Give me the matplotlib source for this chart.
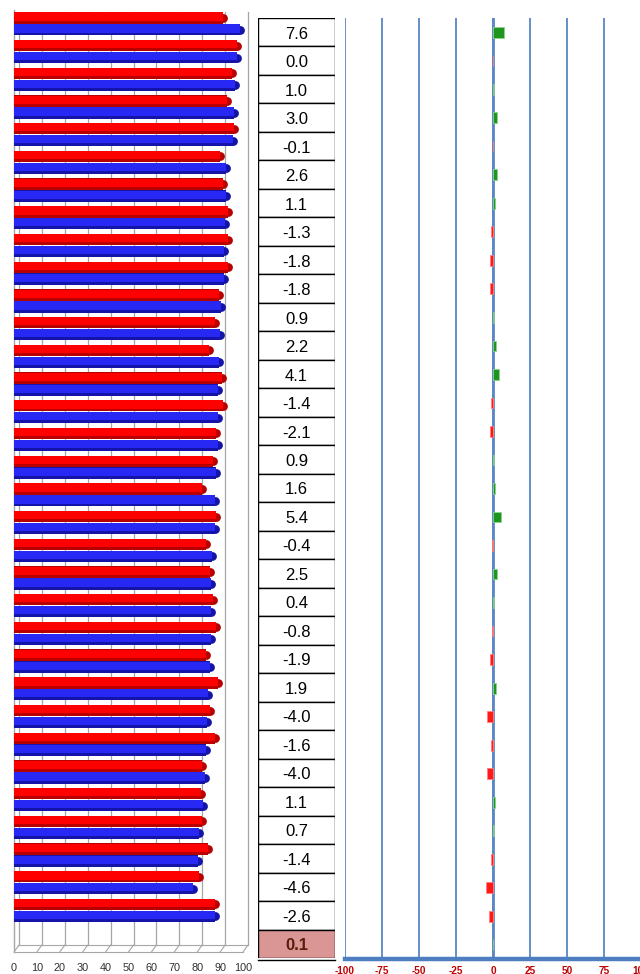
import numpy as np
import matplotlib
matplotlib.use("Agg")
import matplotlib.pyplot as plt
import matplotlib.patches as mpatches
import matplotlib.transforms as mtransforms

plt.rcParams.update({"font.family": ["Liberation Sans", "DejaVu Sans"],
                     "axes.unicode_minus": False})

W, H = 640, 974

# values, top row first
red_vals = [91.1, 97.5, 95.3, 93.1, 95.9, 90.1, 91.4, 93.3, 93.6, 93.3, 89.5,
            87.8, 85.3, 90.7, 91.1, 88.2, 86.8, 82.2, 88.1, 83.8, 85.7, 87.0,
            88.1, 83.8, 88.9, 85.7, 87.9, 82.1, 81.8, 82.2, 84.9, 80.8, 87.8]
blue_vals = [98.7, 97.5, 96.3, 96.1, 95.8, 92.7, 92.5, 92.0, 91.8, 91.5, 90.4,
             90.0, 89.4, 89.3, 89.0, 89.1, 88.4, 87.6, 87.7, 86.3, 86.1, 86.2,
             86.2, 85.7, 84.9, 84.1, 83.9, 83.2, 82.5, 80.8, 80.3, 78.2, 87.9]
diffs = [7.6, 0.0, 1.0, 3.0, -0.1, 2.6, 1.1, -1.3, -1.8, -1.8, 0.9, 2.2, 4.1,
         -1.4, -2.1, 0.9, 1.6, 5.4, -0.4, 2.5, 0.4, -0.8, -1.9, 1.9, -4.0,
         -1.6, -4.0, 1.1, 0.7, -1.4, -4.6, -2.6, 0.1]
left_ticks = [0, 10, 20, 30, 40, 50, 60, 70, 80, 90, 100]
right_ticks = [-100, -75, -50, -25, 0, 25, 50, 75, 100]

RED = "#FF0000"; RED_DK = "#B80000"
BLUE = "#2828F5"; BLUE_DK = "#1414A8"
WALL = "#A6A6A6"; GRID_BLUE = "#5B87C5"
GREEN = "#1E961E"; NEG = "#FF1A1A"


def frame(x0, y0, x1, y1):
    return [x0/W, 1 - y1/H, (x1 - x0)/W, (y1 - y0)/H]


fig = plt.figure(figsize=(W/100, H/100), dpi=100)
n = len(diffs)
ypos = np.arange(n)

# ===================================================== left: 3D-ish bars
ax = fig.add_axes(frame(14, 10, 243, 952))
bh = 0.41
for vals, off, c, dk in [(red_vals, -0.215, RED, RED_DK),
                         (blue_vals, 0.215, BLUE, BLUE_DK)]:
    ax.barh(ypos + off, vals, height=bh, color=dk, zorder=3)
    ax.barh(ypos + off - bh*0.12, vals, height=bh*0.72, color=c, zorder=4)
    # rounded cylinder end
    ax.scatter(vals, ypos + off, s=40, marker="o", color=dk, lw=0,
               zorder=2.5, clip_on=False)
ax.set_xlim(0, 100)
ax.set_ylim(n + 0.5, -0.5)

# back wall gridlines, pushed right a few pixels for the depth
back = ax.get_xaxis_transform() + mtransforms.ScaledTranslation(
    5/100, 0, fig.dpi_scale_trans)
depth = 7/942
for v in left_ticks:
    ax.plot([v, v], [depth, 0.998], transform=back, color=WALL, lw=0.9,
            zorder=1, clip_on=False)
    ax.annotate("", xy=(v, depth), xycoords=back, xytext=(v, 0),
                textcoords=ax.get_xaxis_transform(),
                arrowprops=dict(arrowstyle="-", color=WALL, lw=0.8,
                                shrinkA=0, shrinkB=0))
ax.plot([0, 100], [depth, depth], transform=back, color=WALL, lw=0.8,
        clip_on=False)
for s in ["top", "right"]:
    ax.spines[s].set_visible(False)
ax.spines["left"].set_color(WALL)
ax.spines["bottom"].set_color(WALL)
ax.spines["left"].set_linewidth(1.0)
ax.spines["bottom"].set_linewidth(0.8)
ax.set_yticks([])
ax.set_xticks(left_ticks)
ax.tick_params(axis="x", length=0, pad=8, labelsize=7.8,
               labelcolor="#303030")

# ===================================================== middle: table
axt = fig.add_axes(frame(258, 18, 335, 958))
axt.set_xlim(0, 1)
axt.set_ylim(n, 0)
axt.axis("off")
for i, d in enumerate(diffs):
    last = i == n - 1
    axt.add_patch(mpatches.Rectangle((0, i), 1, 1,
                  fc="#D99694" if last else "white", ec="black", lw=1.0))
    axt.text(0.5, i + 0.57, f"{d:.1f}", ha="center", va="center",
             fontsize=12, color="#5A1E0A" if last else "black",
             weight="bold" if last else "normal")
axt.plot([0, 1], [n + 0.08, n + 0.08], color="black", lw=1.0,
         clip_on=False)

# ===================================================== right: differences
axr = fig.add_axes(frame(345, 18, 641, 959))
colors = [GREEN if d > 0 else NEG for d in diffs]
edges = ["#8FD28F" if d > 0 else "#FF8080" for d in diffs]
axr.barh(ypos, diffs, height=0.38, color=colors, edgecolor=edges, lw=0.6,
         zorder=3)
axr.set_xlim(-100, 100)
axr.set_ylim(n - 0.5, -0.5)
axr.set_xticks(right_ticks)
axr.set_yticks([])
axr.grid(axis="x", color=GRID_BLUE, lw=1.3, zorder=0)
axr.axvline(0, color=GRID_BLUE, lw=2.0, zorder=1)
for s in ["top", "right", "left"]:
    axr.spines[s].set_visible(False)
axr.spines["bottom"].set_color("#4F7EC0")
axr.spines["bottom"].set_linewidth(3.2)
axr.tick_params(axis="x", length=0, pad=5, labelsize=7.2,
                labelcolor="#C00000")
for lab in axr.get_xticklabels():
    lab.set_fontweight("bold")

fig.savefig("out.png", dpi=100)
